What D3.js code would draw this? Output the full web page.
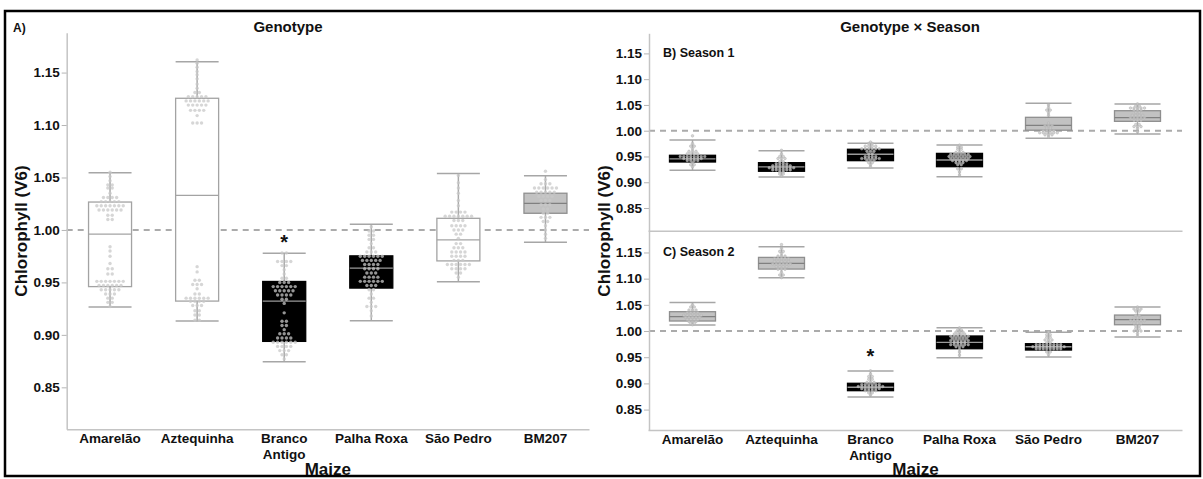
<!DOCTYPE html>
<html>
<head>
<meta charset="utf-8">
<script src="https://cdnjs.cloudflare.com/ajax/libs/d3/7.8.5/d3.min.js"></script>
<style>
  body { margin: 0; background: #fff; }
  svg text { font-family: "Liberation Sans", Arial, sans-serif; font-weight: bold; fill: #111; }
</style>
</head>
<body>
<div id="chart"></div>
<script>
let genotypes = ["Amarelão", "Aztequinha", "Branco Antigo", "Palha Roxa", "São Pedro", "BM207"];
let labelLines = [["Amarelão"], ["Aztequinha"], ["Branco", "Antigo"], ["Palha Roxa"], ["São Pedro"], ["BM207"]];
let yTicks = [0.85, 0.9, 0.95, 1.0, 1.05, 1.1, 1.15];

// [lower whisker, Q1, median, Q3, upper whisker]
let boxGenotype = [
  [0.9265, 0.946, 0.996, 1.0266, 1.0545],
  [0.9132, 0.9322, 1.033, 1.1255, 1.1604],
  [0.8745, 0.8938, 0.9322, 0.9509, 0.9778],
  [0.9135, 0.9446, 0.9636, 0.9753, 1.0054],
  [0.9506, 0.9705, 0.9905, 1.0111, 1.0539],
  [0.9883, 1.0159, 1.0254, 1.035, 1.0516]
];
let boxSeason1 = [
  [0.9232, 0.9393, 0.9452, 0.9523, 0.982],
  [0.9103, 0.9213, 0.93, 0.938, 0.9612],
  [0.9277, 0.9419, 0.9543, 0.964, 0.9755],
  [0.9109, 0.9302, 0.9432, 0.956, 0.9723],
  [0.9853, 1.001, 1.0105, 1.026, 1.0531],
  [0.9936, 1.0182, 1.0252, 1.0388, 1.0517]
];
let boxSeason2 = [
  [1.0115, 1.0191, 1.0274, 1.0369, 1.0547],
  [1.1018, 1.1183, 1.1292, 1.1406, 1.1609],
  [0.874, 0.8861, 0.8926, 0.9002, 0.9237],
  [0.949, 0.9662, 0.9784, 0.9905, 1.0063],
  [0.9504, 0.9637, 0.97, 0.9758, 0.9975],
  [0.9885, 1.012, 1.0216, 1.0305, 1.0458]
];

// box shading: w = white, k = black, g = grey
let shadeGenotype = ["w", "w", "k", "k", "w", "g"];
let shadeSeason1 = ["k", "k", "k", "k", "g", "g"];
let shadeSeason2 = ["g", "g", "k", "k", "k", "g"];

// individual readings as [value, how many at that level]
let dotsGenotype = [
  [[1.055,1],[1.051,1],[1.047,1],[1.043,2],[1.04,2],[1.035,1],[1.031,4],[1.027,5],[1.023,7],[1.019,6],[1.014,2],[1.01,2],
   [0.984,1],[0.98,1],[0.975,1],[0.968,1],[0.963,2],[0.958,2],[0.951,7],[0.947,6],[0.943,5],[0.939,3],[0.935,2],[0.931,2],[0.927,1]],
  [[1.162,1],[1.159,1],[1.155,1],[1.151,1],[1.148,1],[1.144,1],[1.139,1],[1.135,1],[1.131,2],[1.127,5],[1.123,6],[1.119,5],[1.114,4],[1.109,1],[1.102,3],
   [0.965,1],[0.96,1],[0.952,2],[0.948,3],[0.944,1],[0.939,2],[0.935,6],[0.932,4],[0.928,3],[0.923,2],[0.919,2],[0.914,2]],
  [[0.978,2],[0.97,4],[0.966,2],[0.962,1],[0.958,1],[0.954,2],[0.95,3],[0.946,6],[0.942,5],[0.938,4],[0.934,2],[0.93,1],
   [0.921,1],[0.913,2],[0.909,2],[0.905,1],[0.901,3],[0.897,4],[0.893,6],[0.889,4],[0.885,3],[0.881,2],[0.877,1]],
  [[1.003,1],[0.999,2],[0.995,2],[0.991,2],[0.987,1],[0.983,2],[0.979,3],[0.975,6],[0.971,5],[0.967,4],[0.963,4],[0.959,3],
   [0.955,4],[0.951,6],[0.947,3],[0.943,2],[0.939,1],[0.935,2],[0.931,1],[0.927,3],[0.923,1],[0.918,1]],
  [[1.052,1],[1.045,1],[1.04,1],[1.035,1],[1.028,1],[1.023,1],[1.017,4],[1.013,7],[1.009,3],[1.004,4],[1.0,3],[0.996,2],
   [0.992,1],[0.987,2],[0.983,3],[0.979,4],[0.975,4],[0.971,3],[0.967,6],[0.963,4],[0.959,2],[0.955,1]],
  [[1.056,1],[1.048,1],[1.044,3],[1.04,6],[1.036,5],[1.032,4],[1.028,3],[1.024,3],[1.02,2],[1.016,2],[1.012,3],[1.008,2],
   [1.004,1],[1.0,1],[0.996,1],[0.992,1]]
];
let dotsSeason1 = [
  [[0.99,1],[0.975,1],[0.97,2],[0.965,1],[0.96,3],[0.955,4],[0.95,8],[0.946,6],[0.942,4],[0.938,1],[0.934,2],[0.93,1]],
  [[0.962,1],[0.955,1],[0.95,2],[0.946,3],[0.94,2],[0.936,4],[0.932,6],[0.928,8],[0.924,6],[0.92,2],[0.916,2],[0.912,1]],
  [[0.978,1],[0.975,2],[0.97,4],[0.965,6],[0.96,3],[0.955,2],[0.95,4],[0.946,6],[0.942,3],[0.938,2],[0.934,1],[0.93,1]],
  [[0.972,1],[0.968,2],[0.964,2],[0.958,3],[0.954,6],[0.95,7],[0.946,6],[0.942,5],[0.938,3],[0.934,2],[0.926,2],[0.92,1],[0.914,1]],
  [[1.05,1],[1.045,1],[1.04,2],[1.035,1],[1.03,1],[1.015,1],[1.01,3],[1.005,2],[1.0,4],[0.996,6],[0.992,3],[0.988,1]],
  [[1.052,1],[1.048,2],[1.044,5],[1.04,3],[1.035,2],[1.03,4],[1.025,5],[1.02,3],[1.012,2],[1.008,3],[1.004,1],[0.998,1]]
];
let dotsSeason2 = [
  [[1.05,1],[1.046,2],[1.04,3],[1.035,4],[1.03,6],[1.026,5],[1.022,4],[1.018,3],[1.014,2],[1.012,1]],
  [[1.165,1],[1.158,1],[1.152,2],[1.148,1],[1.143,3],[1.138,5],[1.133,5],[1.128,6],[1.123,4],[1.118,3],[1.112,1],[1.107,2],[1.102,1]],
  [[0.924,1],[0.918,1],[0.913,2],[0.908,2],[0.902,3],[0.898,6],[0.894,8],[0.89,6],[0.886,4],[0.882,2],[0.878,1]],
  [[1.006,1],[1.002,2],[0.998,3],[0.994,4],[0.99,6],[0.986,5],[0.982,6],[0.978,4],[0.974,6],[0.97,3],[0.965,1],[0.96,1],[0.954,1]],
  [[0.998,1],[0.993,2],[0.988,2],[0.983,3],[0.978,2],[0.974,8],[0.97,10],[0.966,8],[0.96,2],[0.955,1]],
  [[1.046,1],[1.042,3],[1.038,2],[1.03,2],[1.025,3],[1.02,5],[1.015,3],[1.01,2],[1.005,2],[1.0,3],[0.995,1],[0.99,1]]
];

// significance marks: [genotype, value where the star sits]
let starsGenotype = [["Branco Antigo", 0.992]];
let starsSeason2 = [["Branco Antigo", 0.96]];

let shadeFill = { w: "#ffffff", k: "#000000", g: "#c2c2c2" };
let shadeStroke = { w: "#a3a3a3", k: "#000000", g: "#8f8f8f" };
let shadeMedian = { w: "#a3a3a3", k: "#9a9a9a", g: "#808080" };

let svg = d3.select("#chart").append("svg").attr("width", 1203).attr("height", 479);
svg.append("rect").attr("width", 1203).attr("height", 479).attr("fill", "#fff");

function drawPanel(cfg) {
  let x = d3.scaleBand().domain(genotypes).range(cfg.xRange);
  let y = d3.scaleLinear().domain(cfg.yDomain).range(cfg.yRange);
  let g = svg.append("g");
  let cx = (d) => x(d) + x.bandwidth() / 2;
  let half = cfg.boxWidth / 2;

  // reference line at 1.00
  g.append("line")
    .attr("x1", cfg.axisX).attr("x2", cfg.xRange[1])
    .attr("y1", y(1)).attr("y2", y(1))
    .attr("stroke", "#ababab").attr("stroke-width", 2)
    .attr("stroke-dasharray", "6,5");

  let yAxis = d3.axisLeft(y).tickValues(yTicks).tickFormat(d3.format(".2f"))
    .tickSize(5).tickSizeOuter(0).tickPadding(2);
  let ya = g.append("g").attr("transform", "translate(" + cfg.axisX + ",0)").call(yAxis);
  ya.select(".domain").attr("stroke", "#c4c4c4").attr("stroke-width", 1.5);
  ya.selectAll(".tick line").attr("stroke", "#b5b5b5");
  ya.selectAll(".tick text").attr("font-size", 13.5).attr("fill", "#1a1a1a");

  let xAxis = d3.axisBottom(x).tickSize(0).tickSizeOuter(0).tickFormat("");
  let xa = g.append("g").attr("transform", "translate(0," + cfg.yRange[0] + ")").call(xAxis);
  xa.select(".domain").attr("stroke", "#c4c4c4").attr("stroke-width", 1.5);
  if (cfg.xLabels) {
    xa.selectAll(".tick text")
      .attr("font-size", 13.5).attr("fill", "#1a1a1a").attr("y", 0).attr("dy", null)
      .each(function (d, i) {
        let t = d3.select(this);
        labelLines[i].forEach((line, k) => {
          t.append("tspan").attr("x", 0).attr("y", 14 + k * 15.5).text(line);
        });
      });
  }

  // whiskers and caps
  let bx = g.selectAll(".bx").data(genotypes).enter().append("g");
  bx.append("line")
    .attr("x1", (d) => cx(d)).attr("x2", (d) => cx(d))
    .attr("y1", (d, i) => y(cfg.boxes[i][0])).attr("y2", (d, i) => y(cfg.boxes[i][4]))
    .attr("stroke", "#aaaaaa").attr("stroke-width", 1.5);
  [0, 4].forEach((k) => {
    bx.append("line")
      .attr("x1", (d) => cx(d) - half).attr("x2", (d) => cx(d) + half)
      .attr("y1", (d, i) => y(cfg.boxes[i][k])).attr("y2", (d, i) => y(cfg.boxes[i][k]))
      .attr("stroke", "#a6a6a6").attr("stroke-width", 1.5);
  });
  bx.append("rect")
    .attr("x", (d) => cx(d) - half).attr("width", cfg.boxWidth)
    .attr("y", (d, i) => y(cfg.boxes[i][3]))
    .attr("height", (d, i) => y(cfg.boxes[i][1]) - y(cfg.boxes[i][3]))
    .attr("fill", (d, i) => shadeFill[cfg.shades[i]])
    .attr("stroke", (d, i) => shadeStroke[cfg.shades[i]])
    .attr("stroke-width", 1.3);

  // points
  cfg.dots.forEach((rows, i) => {
    let c = cx(genotypes[i]);
    rows.forEach((row) => {
      let n = row[1];
      for (let k = 0; k < n; k++) {
        g.append("circle")
          .attr("cx", c + (k - (n - 1) / 2) * cfg.dotGap)
          .attr("cy", y(row[0]))
          .attr("r", cfg.dotR)
          .attr("fill", "#c8c8c8")
          .attr("fill-opacity", 0.75)
          .attr("stroke", "#b0b0b0").attr("stroke-width", cfg.dotStroke);
      }
    });
  });

  bx.append("line")
    .attr("x1", (d) => cx(d) - half).attr("x2", (d) => cx(d) + half)
    .attr("y1", (d, i) => y(cfg.boxes[i][2])).attr("y2", (d, i) => y(cfg.boxes[i][2]))
    .attr("stroke", (d, i) => shadeMedian[cfg.shades[i]]).attr("stroke-width", 1.3);

  cfg.stars.forEach((s) => {
    g.append("text")
      .attr("x", cx(s[0])).attr("y", y(s[1]))
      .attr("dy", "0.55em")
      .attr("text-anchor", "middle").attr("font-size", 20).text("*");
  });

  if (cfg.title) {
    g.append("text").attr("x", (cfg.axisX + cfg.xRange[1]) / 2).attr("y", 475)
      .attr("text-anchor", "middle").attr("font-size", 17).text(cfg.title);
  }
}

drawPanel({
  xRange: [66.5, 589], axisX: 66.7, yDomain: [0.81, 1.188], yRange: [429.3, 32.7],
  boxes: boxGenotype, shades: shadeGenotype, dots: dotsGenotype, stars: starsGenotype,
  boxWidth: 43, dotR: 1.7, dotGap: 4.4, dotStroke: 0, xLabels: true, title: "Maize"
});
drawPanel({
  xRange: [648, 1182], axisX: 649, yDomain: [0.806, 1.189], yRange: [230.7, 33.3],
  boxes: boxSeason1, shades: shadeSeason1, dots: dotsSeason1, stars: [],
  boxWidth: 46, dotR: 1.3, dotGap: 3.5, dotStroke: 0.5, xLabels: false, title: null
});
drawPanel({
  xRange: [648, 1182], axisX: 649, yDomain: [0.811, 1.191], yRange: [430, 231],
  boxes: boxSeason2, shades: shadeSeason2, dots: dotsSeason2, stars: starsSeason2,
  boxWidth: 46, dotR: 1.3, dotGap: 3.5, dotStroke: 0.5, xLabels: true, title: "Maize"
});

// titles and panel letters
svg.append("text").attr("x", 288).attr("y", 32).attr("text-anchor", "middle").attr("font-size", 15).text("Genotype");
svg.append("text").attr("x", 910).attr("y", 32).attr("text-anchor", "middle").attr("font-size", 15).text("Genotype × Season");
svg.append("text").attr("x", 13).attr("y", 32).attr("font-size", 12).text("A)");
svg.append("text").attr("x", 663).attr("y", 57).attr("font-size", 12.5).text("B) Season 1");
svg.append("text").attr("x", 663).attr("y", 256).attr("font-size", 12.5).text("C) Season 2");

svg.append("text").attr("transform", "translate(27,231) rotate(-90)")
  .attr("text-anchor", "middle").attr("font-size", 17).text("Chlorophyll (V6)");
svg.append("text").attr("transform", "translate(610,231) rotate(-90)")
  .attr("text-anchor", "middle").attr("font-size", 17).text("Chlorophyll (V6)");

// outer frame
svg.append("rect").attr("x", 5).attr("y", 11).attr("width", 1195).attr("height", 465)
  .attr("fill", "none").attr("stroke", "#000").attr("stroke-width", 2.5);
</script>
</body>
</html>
